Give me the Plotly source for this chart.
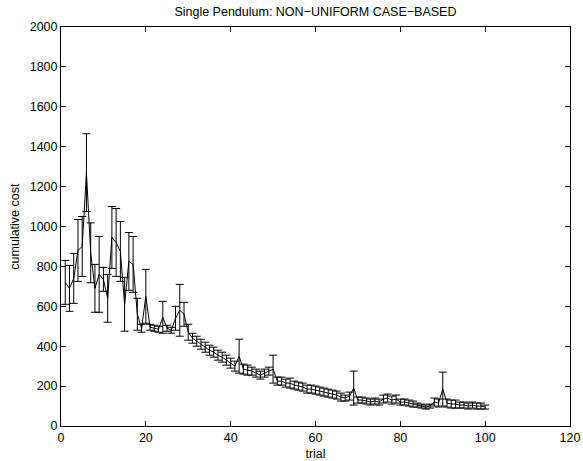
import plotly.graph_objects as go

trial = list(range(1, 101))
cost = [720, 690, 740, 880, 900, 1270, 868, 690, 760, 735,
        640, 945, 920, 875, 610, 825, 810, 560, 490, 650,
        495, 490, 485, 545, 490, 480, 540, 580, 560, 470,
        440, 425, 410, 395, 380, 370, 355, 345, 330, 315,
        300, 350, 285, 280, 275, 265, 255, 265, 275, 285,
        225, 225, 215, 215, 205, 200, 195, 185, 185, 180,
        175, 170, 165, 160, 155, 145, 140, 150, 190, 130,
        130, 125, 120, 125, 120, 135, 140, 130, 135, 120,
        120, 115, 110, 105, 100, 95, 100, 120, 115, 185,
        115, 110, 110, 105, 105, 100, 105, 100, 100, 95]
err = [110, 115, 125, 155, 150, 195, 150, 120, 190, 60,
       120, 155, 170, 150, 135, 145, 140, 80, 20, 135,
       15, 15, 15, 80, 15, 15, 60, 130, 60, 40,
       25, 25, 25, 25, 25, 25, 25, 25, 25, 25,
       25, 85, 25, 25, 20, 20, 20, 20, 20, 70,
       20, 20, 20, 25, 20, 20, 20, 20, 20, 20,
       20, 20, 20, 20, 20, 20, 15, 20, 85, 15,
       15, 15, 15, 15, 15, 20, 20, 20, 20, 15,
       15, 15, 15, 10, 10, 10, 10, 20, 20, 85,
       20, 20, 20, 15, 15, 15, 15, 15, 15, 10]

x_ticks = [0, 20, 40, 60, 80, 100, 120]
y_ticks = list(range(0, 2001, 200))

fig = go.Figure()
fig.add_trace(go.Scatter(
    x=trial, y=cost, mode="lines",
    line=dict(color="black", width=1),
    error_y=dict(type="data", array=err, visible=True,
                 color="black", thickness=1, width=4),
    showlegend=False,
))

fam = "Liberation Sans, Arial, sans-serif"
font = dict(family=fam, size=12.5, color="black")
axis_common = dict(
    showgrid=False, zeroline=False, showline=True, linecolor="black",
    linewidth=1, mirror="ticks", ticks="inside", ticklen=5,
    tickcolor="black", tickfont=font, automargin=False,
)
fig.update_layout(
    width=583, height=461,
    margin=dict(l=61, r=13, t=27, b=35),
    paper_bgcolor="white", plot_bgcolor="white",
    font=font,
    title=dict(text="Single Pendulum: NON\u2212UNIFORM CASE\u2212BASED",
               x=0.541, xanchor="center", y=0.985, yanchor="top",
               font=dict(family=fam, size=12.5, color="black")),
    xaxis=dict(range=[0, 120], tickvals=x_ticks,
               title=dict(text="trial", font=font), **axis_common),
    yaxis=dict(range=[0, 2000], tickvals=y_ticks, **axis_common),
    annotations=[dict(text="cumulative cost", textangle=-90, showarrow=False,
                      xref="paper", yref="paper", x=-0.092, y=0.5,
                      xanchor="center", yanchor="middle", font=font)],
)
fig.write_html("out.html", config={"displayModeBar": False},
               post_script="document.body.style.margin='0';document.body.style.padding='0';")
